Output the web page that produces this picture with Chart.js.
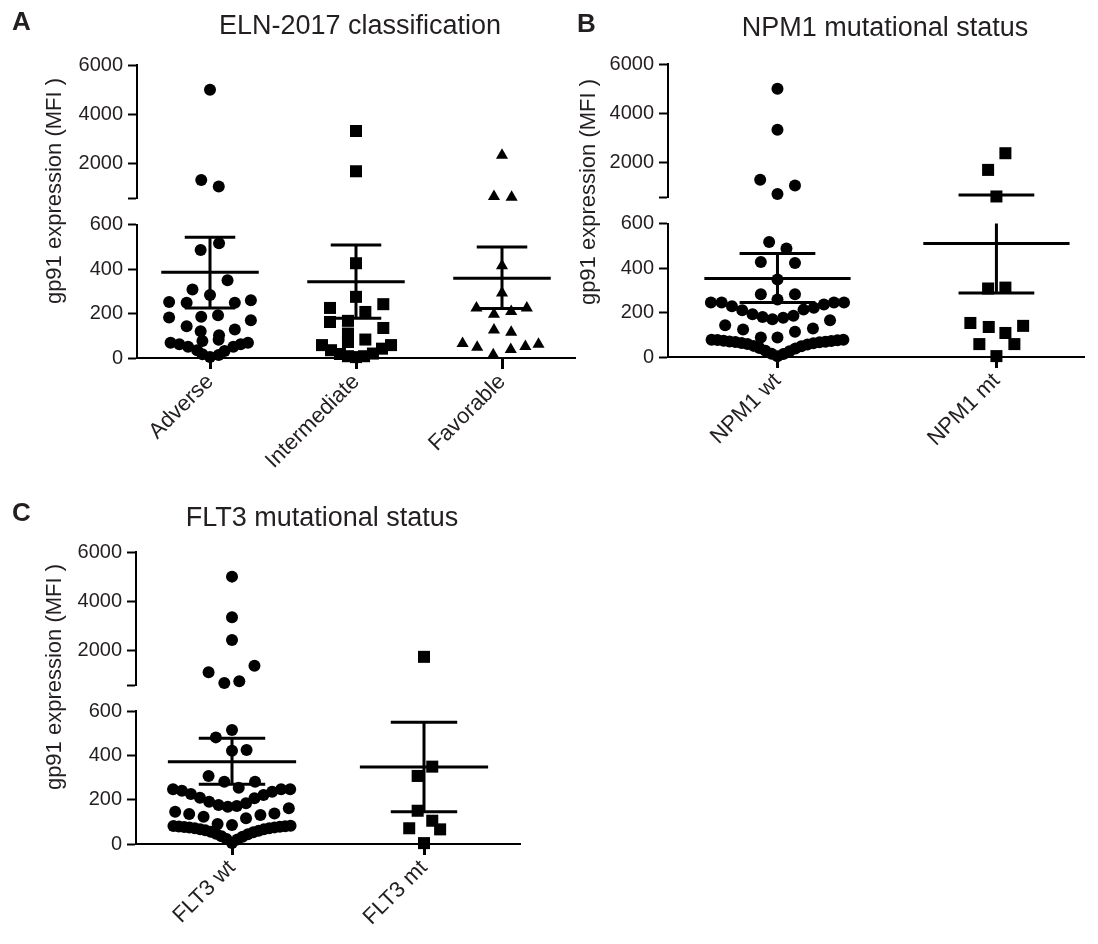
<!DOCTYPE html>
<html>
<head>
<meta charset="utf-8">
<script src="https://cdn.jsdelivr.net/npm/chart.js@4.4.1/dist/chart.umd.min.js"></script>
<style>
  body { margin: 0; background: #fff; }
  #wrap { position: relative; width: 1098px; height: 944px; }
  canvas { position: absolute; }
</style>
</head>
<body>
<div id="wrap">
  <canvas id="chartA" width="585" height="470" style="left:0;top:0"></canvas>
  <canvas id="chartB" width="538" height="470" style="left:560px;top:0"></canvas>
  <canvas id="chartC" width="560" height="464" style="left:0;top:480px"></canvas>
</div>
<script>
// panel A - ELN-2017 classification
var elnCategories = ['Adverse', 'Intermediate', 'Favorable'];
var adverseValues = [5000, 1350, 1080, 516, 486, 350, 308, 283, 260, 252, 248, 248, 192, 185, 182, 170, 143, 128, 120, 102, 82, 76, 69, 69, 62, 62, 51, 51, 35, 32, 17, 14, 5];
var adverseJitter = [0, -0.06, 0.06, 0.062, -0.064, 0.12, -0.12, 0, 0.28, -0.28, -0.16, 0.17, 0.055, -0.06, -0.28, 0.28, -0.16, 0.17, -0.064, 0.062, 0.059, -0.052, -0.27, 0.26, -0.21, 0.21, -0.15, 0.16, -0.088, 0.10, -0.052, 0.059, 0];
var intermediateValues = [3330, 1700, 426, 275, 242, 225, 207, 167, 162, 135, 110, 83, 72, 58, 58, 42, 35, 20, 18, 8, 8, 4];
var intermediateJitter = [0, 0, 0, 0, 0.187, -0.178, 0.064, -0.055, -0.178, 0.187, -0.055, 0.064, -0.055, -0.233, 0.24, 0.178, -0.171, 0.116, -0.11, -0.055, 0.055, 0];
var favorableValues = [2350, 680, 650, 415, 292, 225, 225, 209, 197, 126, 116, 65, 62, 52, 48, 38, 15];
var favorableJitter = [0, -0.055, 0.066, 0, 0, -0.175, 0.17, 0.063, -0.055, -0.055, 0.063, -0.27, 0.25, 0.16, -0.17, 0.06, -0.06];
var elnMean = [385, 343, 358];
var elnLow = [225, 179, 223];
var elnHigh = [543, 508, 499];

// panel B - NPM1
var npmCategories = ['NPM1 wt', 'NPM1 mt'];
var npmWtValues = [5000, 3340, 1320, 1080, 740, 517, 488, 427, 423, 348, 282, 282, 258,
  245, 245, 228, 210, 192, 180, 170, 176, 185, 213, 221, 236, 245, 245,
  143, 124, 88, 88, 113, 128, 165,
  78, 76, 73, 70, 67, 63, 58, 50, 40, 28, 15, 3, 14, 26, 38, 48, 56, 62, 66, 69, 72, 75, 78];
var npmWtJitter = [0, 0, -0.079, 0.08, 0, -0.038, 0.041, -0.076, 0.08, 0, -0.076, 0.08, 0,
  -0.304, -0.255, -0.208, -0.161, -0.114, -0.068, -0.023, 0.026, 0.073, 0.119, 0.166, 0.212, 0.258, 0.304,
  -0.239, -0.157, -0.076, 0, 0.08, 0.162, 0.24,
  -0.301, -0.274, -0.246, -0.219, -0.192, -0.164, -0.137, -0.109, -0.082, -0.055, -0.027, 0, 0.027, 0.055, 0.082, 0.109, 0.137, 0.164, 0.192, 0.219, 0.246, 0.274, 0.301];
var npmMtValues = [2390, 1715, 640, 312, 308, 153, 140, 135, 108, 58, 58, 4];
var npmMtJitter = [0.041, -0.038, 0, 0.041, -0.038, -0.119, 0.122, -0.035, 0.041, -0.078, 0.082, 0];
var npmMean = [353, 510];
var npmLow = [245, 288];
var npmHigh = [465, 700];

// panel C - FLT3
var fltCategories = ['FLT3 wt', 'FLT3 mt'];
var fltWtValues = [5000, 3350, 2430, 1380, 1113, 750, 681, 514, 481, 424, 421, 307, 281, 281, 254,
  247, 240, 226, 209, 191, 176, 168, 171, 184, 206, 221, 236, 247, 247,
  146, 135, 123, 90, 86, 116, 131, 138, 161,
  81, 79, 77, 74, 71, 67, 62, 55, 46, 35, 22, 4, 20, 33, 44, 53, 60, 66, 71, 75, 78, 80, 82];
var fltWtJitter = [0, 0, 0, 0.117, -0.122, 0.038, -0.04, 0, -0.084, 0.076, 0, -0.122, -0.04, 0.12, 0.035,
  -0.307, -0.261, -0.214, -0.167, -0.119, -0.07, -0.022, 0.025, 0.073, 0.117, 0.164, 0.209, 0.256, 0.303,
  -0.296, -0.223, -0.148, -0.075, 0, 0.073, 0.148, 0.221, 0.296,
  -0.305, -0.277, -0.249, -0.222, -0.194, -0.166, -0.139, -0.111, -0.083, -0.055, -0.028, 0, 0.028, 0.055, 0.083, 0.111, 0.139, 0.166, 0.194, 0.222, 0.249, 0.277, 0.305];
var fltMtValues = [1743, 349, 307, 150, 105, 71, 66, 4];
var fltMtJitter = [0, 0.043, -0.033, -0.033, 0.043, -0.077, 0.084, 0];
var fltMean = [371, 347];
var fltLow = [269, 146];
var fltHigh = [477, 549];

var lowTicks = [0, 200, 400, 600];
var topTicks = [600, 2000, 4000, 6000];
var yTitle = 'gp91 expression (MFI )';

var BREAK = 600;
var TOP_MAX = 6000;
var MEAN_W = 0.334;
var CAP_W = 0.173;
var FONT = '"Liberation Sans", Arial, Helvetica, sans-serif';
var INK = '#231f20';

var panelText = {
    id: 'panelText',
    afterDraw: function (chart, args, o) {
        var ctx = chart.ctx;
        var a = chart.chartArea;
        ctx.save();
        ctx.fillStyle = INK;
        ctx.textBaseline = 'middle';
        ctx.textAlign = 'left';
        ctx.font = 'bold 26px ' + FONT;
        ctx.fillText(o.letter, a.left + o.letterDx, a.top + o.letterDy);
        ctx.textAlign = 'center';
        ctx.font = '27px ' + FONT;
        ctx.fillText(o.title, a.left + o.titleDx, a.top + o.titleDy);
        ctx.translate(a.left + o.yTitleDx, a.top + o.yTitleDy);
        ctx.rotate(-Math.PI / 2);
        ctx.font = '22px ' + FONT;
        ctx.fillText(yTitle, 0, 0);
        ctx.restore();
    }
};

function pointSet(data, axis, shape, radius) {
    return {
        data: data, yAxisID: axis, clip: false,
        pointStyle: shape, pointRadius: radius, pointHoverRadius: radius,
        pointBackgroundColor: '#000', pointBorderWidth: 0, borderWidth: 0
    };
}

function lineSet(data, axis) {
    return {
        data: data, yAxisID: axis, clip: false, showLine: true, spanGaps: false,
        borderColor: '#000', borderWidth: 3, pointRadius: 0, pointHoverRadius: 0
    };
}

function buildChart(id, s) {
    var cats = s.categories;
    var datasets = [];
    var lowLines = [], topLines = [];

    s.groups.forEach(function (g, i) {
        var low = [], high = [];
        g.values.forEach(function (v, k) {
            var p = { x: i + 1 + g.jitter[k], y: v };
            if (v > BREAK) high.push(p); else low.push(p);
        });
        datasets.push(pointSet(low, 'yLow', g.shape, g.radius));
        datasets.push(pointSet(high, 'yTop', g.shape, g.radius));

        var c = i + 1, m = s.mean[i], lo = s.low[i], hi = s.high[i];
        lowLines.push({ x: c - MEAN_W, y: m }, { x: c + MEAN_W, y: m }, { x: c, y: null });
        lowLines.push({ x: c - CAP_W, y: lo }, { x: c + CAP_W, y: lo }, { x: c, y: null });
        lowLines.push({ x: c, y: lo }, { x: c, y: Math.min(hi, BREAK) }, { x: c, y: null });
        var capLine = hi > BREAK ? topLines : lowLines;
        capLine.push({ x: c - CAP_W, y: hi }, { x: c + CAP_W, y: hi }, { x: c, y: null });
    });
    datasets.push(lineSet(lowLines, 'yLow'));
    datasets.push(lineSet(topLines, 'yTop'));

    var tickFont = { family: FONT, size: 20 };
    var yGrid = { drawOnChartArea: false, tickLength: 9, tickWidth: 2, tickColor: '#000' };
    var yBorder = { color: '#000', width: 2 };
    var fixWidth = function (scale) { scale.width = 60; };

    return new Chart(document.getElementById(id), {
        type: 'scatter',
        data: { datasets: datasets },
        plugins: [panelText],
        options: {
            responsive: false,
            animation: false,
            devicePixelRatio: 1,
            events: [],
            layout: { padding: s.padding },
            plugins: {
                legend: { display: false },
                tooltip: { enabled: false },
                panelText: s.text
            },
            scales: {
                x: {
                    type: 'linear', min: 0.5, max: s.xMax,
                    afterBuildTicks: function (scale) {
                        scale.ticks = cats.map(function (c, i) { return { value: i + 1 }; });
                    },
                    afterFit: function (scale) { scale.height = s.xHeight; },
                    ticks: {
                        autoSkip: false, minRotation: 45, maxRotation: 45,
                        color: INK, font: { family: FONT, size: 22 }, padding: 0,
                        callback: function (v) { return cats[v - 1]; }
                    },
                    grid: { drawOnChartArea: false, tickLength: 11, tickWidth: 3, tickColor: '#000' },
                    border: yBorder
                },
                yLow: {
                    type: 'linear', position: 'left', stack: 'y', stackWeight: 133,
                    min: 0, max: BREAK,
                    afterBuildTicks: function (scale) {
                        scale.ticks = lowTicks.map(function (v) { return { value: v }; });
                    },
                    afterFit: fixWidth,
                    ticks: { color: INK, font: tickFont, padding: 5, callback: function (v) { return v; } },
                    grid: yGrid,
                    border: yBorder
                },
                yGap: {
                    type: 'linear', position: 'left', stack: 'y', stackWeight: 26, display: false
                },
                yTop: {
                    type: 'linear', position: 'left', stack: 'y', stackWeight: 133,
                    min: BREAK, max: TOP_MAX,
                    afterBuildTicks: function (scale) {
                        scale.ticks = topTicks.map(function (v) { return { value: v }; });
                    },
                    afterFit: fixWidth,
                    ticks: {
                        color: INK, font: tickFont, padding: 5,
                        callback: function (v) { return v === BREAK ? '' : v; }
                    },
                    grid: yGrid,
                    border: yBorder
                }
            }
        }
    });
}

var chartA = buildChart('chartA', {
    categories: elnCategories,
    groups: [
        { values: adverseValues, jitter: adverseJitter, shape: 'circle', radius: 6 },
        { values: intermediateValues, jitter: intermediateJitter, shape: 'rect', radius: 8.5 },
        { values: favorableValues, jitter: favorableJitter, shape: 'triangle', radius: 7 }
    ],
    mean: elnMean, low: elnLow, high: elnHigh,
    xMax: 3.5, xHeight: 112,
    padding: { left: 77, top: 65, right: 10, bottom: 0 },
    text: { letter: 'A', letterDx: -125, letterDy: -42, title: 'ELN-2017 classification', titleDx: 223, titleDy: -38, yTitleDx: -82, yTitleDy: 126 }
});

var chartB = buildChart('chartB', {
    categories: npmCategories,
    groups: [
        { values: npmWtValues, jitter: npmWtJitter, shape: 'circle', radius: 6 },
        { values: npmMtValues, jitter: npmMtJitter, shape: 'rect', radius: 8.5 }
    ],
    mean: npmMean, low: npmLow, high: npmHigh,
    xMax: 2.4, xHeight: 113,
    padding: { left: 48, top: 64, right: 14, bottom: 0 },
    text: { letter: 'B', letterDx: -91, letterDy: -39, title: 'NPM1 mutational status', titleDx: 217, titleDy: -35, yTitleDx: -79, yTitleDy: 128 }
});

var chartC = buildChart('chartC', {
    categories: fltCategories,
    groups: [
        { values: fltWtValues, jitter: fltWtJitter, shape: 'circle', radius: 6 },
        { values: fltMtValues, jitter: fltMtJitter, shape: 'rect', radius: 8.5 }
    ],
    mean: fltMean, low: fltLow, high: fltHigh,
    xMax: 2.5, xHeight: 100,
    padding: { left: 76, top: 72, right: 40, bottom: 0 },
    text: { letter: 'C', letterDx: -124, letterDy: -38, title: 'FLT3 mutational status', titleDx: 186, titleDy: -33, yTitleDx: -81, yTitleDy: 125 }
});
</script>
</body>
</html>
